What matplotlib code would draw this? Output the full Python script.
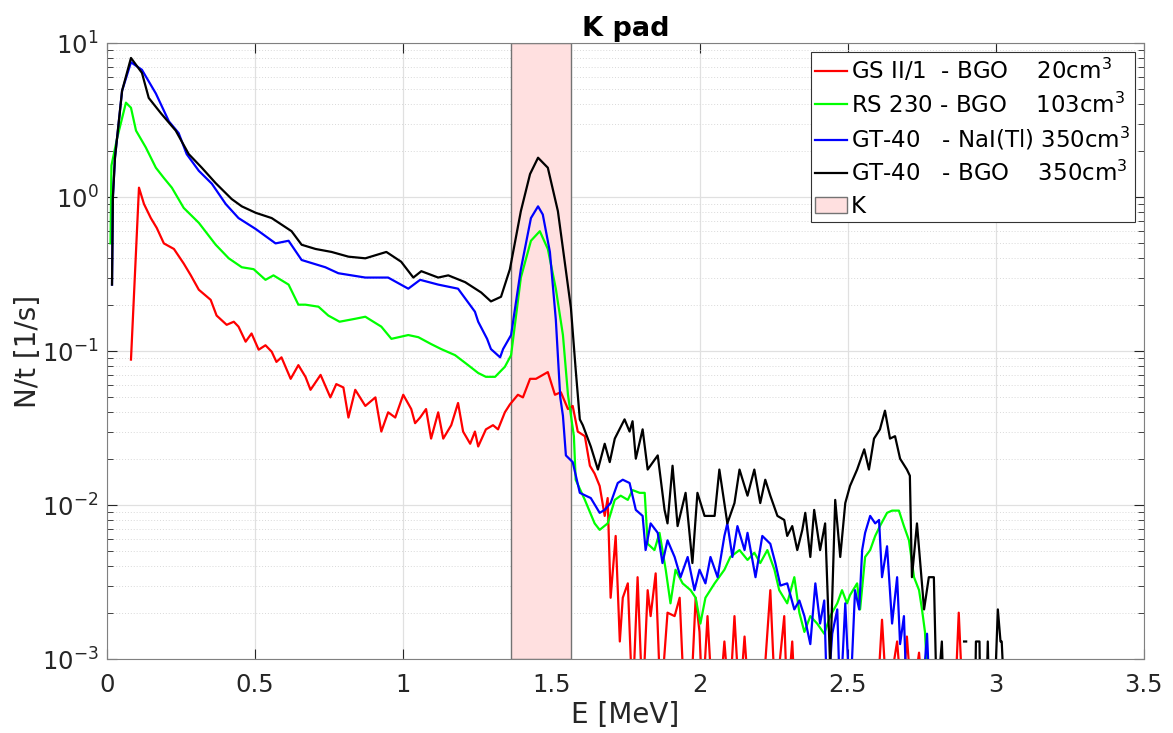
import numpy as np
import matplotlib
matplotlib.use("Agg")
import matplotlib.pyplot as plt
from matplotlib.ticker import LogLocator, NullFormatter, MultipleLocator, FuncFormatter

# GS II/1 - BGO 20cm3 (red)
red_e = [0.081, 0.108, 0.125, 0.148, 0.168, 0.192, 0.226, 0.259, 0.283, 0.310, 0.350, 0.370,
         0.404, 0.428, 0.444, 0.468, 0.488, 0.512, 0.535, 0.556, 0.572, 0.589, 0.620, 0.646,
         0.670, 0.687, 0.721, 0.754, 0.774, 0.798, 0.815, 0.838, 0.872, 0.906, 0.926, 0.949,
         0.973, 1.000, 1.027, 1.040, 1.057, 1.077, 1.094, 1.118, 1.135, 1.162, 1.185, 1.202,
         1.226, 1.242, 1.253, 1.279, 1.303, 1.320, 1.343, 1.360, 1.387, 1.404, 1.428, 1.448,
         1.488, 1.512, 1.532, 1.556, 1.572, 1.589, 1.613, 1.630, 1.646, 1.663, 1.680, 1.690,
         1.700, 1.717, 1.731, 1.741, 1.758, 1.774, 1.791, 1.808, 1.825, 1.835, 1.852, 1.869,
         1.892, 1.916, 1.933, 1.949, 1.970, 1.987, 2.000, 2.010, 2.027, 2.044, 2.067, 2.084,
         2.101, 2.118, 2.135, 2.152, 2.168, 2.212, 2.239, 2.256, 2.286, 2.296, 2.313, 2.323,
         2.599, 2.616, 2.633, 2.667, 2.684, 2.700, 2.717, 2.741, 2.754, 2.862, 2.875, 2.889]
red_v = [0.088, 1.15, 0.90, 0.73, 0.63, 0.50, 0.46, 0.37, 0.31, 0.25, 0.215, 0.17,
         0.148, 0.155, 0.144, 0.115, 0.13, 0.102, 0.109, 0.099, 0.085, 0.091, 0.066, 0.081,
         0.068, 0.056, 0.070, 0.050, 0.061, 0.058, 0.037, 0.056, 0.044, 0.050, 0.030, 0.040,
         0.037, 0.052, 0.042, 0.034, 0.037, 0.042, 0.027, 0.040, 0.027, 0.033, 0.046, 0.030,
         0.025, 0.030, 0.024, 0.031, 0.033, 0.031, 0.040, 0.045, 0.052, 0.050, 0.066, 0.066,
         0.073, 0.052, 0.054, 0.042, 0.044, 0.030, 0.028, 0.018, 0.016, 0.0133, 0.0085, 0.0111,
         0.0025, 0.0063, 0.0013, 0.0025, 0.0031, 0.0005, 0.0034, 0.0005, 0.0028, 0.0019, 0.0036, 0.0005,
         0.0020, 0.0019, 0.0025, 0.0005, 0.0005, 0.0025, 0.0015, 0.0005, 0.0019, 0.0005, 0.0005, 0.0013,
         0.0005, 0.0019, 0.0005, 0.0014, 0.0005, 0.0005, 0.0028, 0.0005, 0.0019, 0.0005, 0.0013, 0.0005,
         0.0005, 0.0018, 0.0005, 0.0013, 0.0005, 0.0014, 0.0005, 0.0011, 0.0005, 0.0005, 0.0020, 0.0005]

# RS 230 - BGO 103cm3 (green)
green_e = [0.012, 0.015, 0.034, 0.064, 0.081, 0.098, 0.131, 0.165, 0.192, 0.219, 0.259, 0.310,
           0.367, 0.411, 0.455, 0.495, 0.535, 0.562, 0.613, 0.646, 0.670, 0.714, 0.747, 0.785,
           0.838, 0.872, 0.926, 0.960, 1.017, 1.051, 1.094, 1.128, 1.175, 1.219, 1.253, 1.279,
           1.310, 1.343, 1.364, 1.397, 1.431, 1.461, 1.488, 1.515, 1.539, 1.556, 1.576, 1.582,
           1.613, 1.646, 1.663, 1.690, 1.714, 1.734, 1.758, 1.774, 1.798, 1.815, 1.825, 1.848,
           1.865, 1.886, 1.902, 1.919, 1.943, 1.970, 1.987, 2.003, 2.020, 2.051, 2.084, 2.104,
           2.135, 2.162, 2.185, 2.205, 2.229, 2.253, 2.269, 2.296, 2.320, 2.337, 2.354, 2.374,
           2.397, 2.421, 2.441, 2.465, 2.481, 2.498, 2.508, 2.532, 2.542, 2.559, 2.576, 2.593,
           2.609, 2.633, 2.650, 2.673, 2.690, 2.707, 2.724, 2.741, 2.751, 2.761, 2.774]
green_v = [0.50, 1.6, 2.4, 4.1, 3.8, 2.7, 2.1, 1.55, 1.33, 1.15, 0.85, 0.68,
           0.49, 0.40, 0.35, 0.34, 0.29, 0.31, 0.27, 0.20, 0.20, 0.194, 0.17, 0.155,
           0.162, 0.167, 0.144, 0.12, 0.127, 0.123, 0.111, 0.103, 0.094, 0.081, 0.072, 0.068,
           0.068, 0.079, 0.094, 0.30, 0.52, 0.60, 0.46, 0.254, 0.127, 0.052, 0.028, 0.0146,
           0.0108, 0.0076, 0.0069, 0.0076, 0.0108, 0.0115, 0.0108, 0.0125, 0.012, 0.012, 0.0056, 0.0051,
           0.0066, 0.0038, 0.0023, 0.0038, 0.0031, 0.0028, 0.0025, 0.0017, 0.0025, 0.0031, 0.0038, 0.0046,
           0.0051, 0.0044, 0.0049, 0.0042, 0.0051, 0.0038, 0.0028, 0.0023, 0.0034, 0.0020, 0.0015, 0.0019,
           0.0017, 0.00146, 0.0019, 0.0023, 0.0028, 0.0023, 0.0026, 0.0031, 0.0021, 0.0046, 0.0051, 0.0063,
           0.0073, 0.0089, 0.0092, 0.0092, 0.0073, 0.0059, 0.0034, 0.0028, 0.0021, 0.0015, 0.0005]

# GT-40 - NaI(Tl) 350cm3 (blue)
blue_e = [0.017, 0.020, 0.027, 0.051, 0.081, 0.118, 0.165, 0.209, 0.242, 0.269, 0.310, 0.354,
          0.401, 0.444, 0.502, 0.569, 0.613, 0.657, 0.737, 0.781, 0.872, 0.949, 1.017, 1.057,
          1.118, 1.185, 1.242, 1.253, 1.283, 1.296, 1.327, 1.337, 1.364, 1.397, 1.431, 1.455,
          1.471, 1.495, 1.515, 1.530, 1.539, 1.549, 1.572, 1.596, 1.616, 1.633, 1.663, 1.680,
          1.700, 1.724, 1.741, 1.764, 1.785, 1.808, 1.818, 1.835, 1.859, 1.875, 1.892, 1.916,
          1.936, 1.960, 1.983, 2.000, 2.020, 2.037, 2.061, 2.084, 2.094, 2.111, 2.128, 2.152,
          2.162, 2.189, 2.212, 2.239, 2.256, 2.273, 2.296, 2.320, 2.337, 2.354, 2.374, 2.391,
          2.407, 2.421, 2.431, 2.448, 2.465, 2.475, 2.492, 2.508, 2.525, 2.539, 2.549, 2.559,
          2.576, 2.593, 2.606, 2.616, 2.633, 2.650, 2.667, 2.677, 2.690, 2.700, 2.727, 2.750,
          2.768, 2.778]
blue_v = [0.27, 1.0, 1.8, 4.9, 7.5, 6.7, 4.7, 3.1, 2.6, 1.9, 1.48, 1.22,
          0.90, 0.73, 0.62, 0.50, 0.52, 0.39, 0.35, 0.32, 0.30, 0.30, 0.254, 0.29,
          0.27, 0.254, 0.18, 0.155, 0.12, 0.103, 0.091, 0.103, 0.127, 0.34, 0.73, 0.87,
          0.77, 0.44, 0.16, 0.05, 0.038, 0.021, 0.019, 0.012, 0.0115, 0.0111, 0.0089, 0.0093,
          0.0103, 0.0139, 0.0146, 0.0139, 0.0093, 0.0085, 0.0051, 0.0076, 0.0066, 0.0042, 0.0059, 0.0046,
          0.0034, 0.0046, 0.0028, 0.0038, 0.0031, 0.0046, 0.0034, 0.0063, 0.0076, 0.0046, 0.0073, 0.0051,
          0.0066, 0.0034, 0.0063, 0.0056, 0.0042, 0.0030, 0.0031, 0.0021, 0.0024, 0.0019, 0.00125, 0.0031,
          0.0017, 0.0024, 0.0005, 0.00146, 0.0021, 0.0005, 0.0023, 0.0005, 0.0028, 0.0021, 0.0051, 0.0066,
          0.0085, 0.0076, 0.0080, 0.0034, 0.0054, 0.0017, 0.0034, 0.00125, 0.0019, 0.0005, 0.00098, 0.0005,
          0.00146, 0.0005]

# GT-40 - BGO 350cm3 (black)
black_e = [0.017, 0.020, 0.027, 0.051, 0.081, 0.118, 0.141, 0.182, 0.232, 0.276, 0.320, 0.367,
           0.421, 0.455, 0.502, 0.556, 0.623, 0.657, 0.704, 0.758, 0.815, 0.872, 0.943, 0.993,
           1.034, 1.061, 1.118, 1.152, 1.209, 1.263, 1.296, 1.330, 1.360, 1.397, 1.428, 1.455,
           1.488, 1.522, 1.545, 1.566, 1.582, 1.596, 1.606, 1.633, 1.657, 1.680, 1.697, 1.714,
           1.747, 1.764, 1.774, 1.785, 1.808, 1.825, 1.859, 1.882, 1.892, 1.909, 1.926, 1.953,
           1.976, 1.993, 2.017, 2.051, 2.067, 2.094, 2.118, 2.135, 2.162, 2.185, 2.205, 2.222,
           2.239, 2.263, 2.286, 2.296, 2.313, 2.330, 2.347, 2.357, 2.374, 2.387, 2.407, 2.424,
           2.441, 2.458, 2.475, 2.492, 2.508, 2.532, 2.556, 2.572, 2.589, 2.609, 2.626, 2.643,
           2.660, 2.677, 2.700, 2.710, 2.717, 2.734, 2.758, 2.774, 2.791, 2.801, 2.818, 2.825,
           2.860, 2.893, 2.900, 2.915, 2.930, 2.933, 2.945, 2.948, 2.968, 2.973, 2.978, 2.995,
           3.007, 3.016, 3.020, 3.030]
black_v = [0.27, 1.0, 1.8, 4.9, 8.0, 6.4, 4.4, 3.5, 2.7, 1.9, 1.55, 1.23,
           0.97, 0.87, 0.79, 0.73, 0.60, 0.49, 0.46, 0.44, 0.41, 0.40, 0.44, 0.38,
           0.30, 0.33, 0.30, 0.31, 0.28, 0.24, 0.21, 0.225, 0.34, 0.81, 1.41, 1.80,
           1.55, 0.81, 0.38, 0.19, 0.076, 0.036, 0.033, 0.024, 0.017, 0.025, 0.019, 0.027,
           0.036, 0.030, 0.035, 0.020, 0.031, 0.017, 0.021, 0.0093, 0.0076, 0.018, 0.0073, 0.012,
           0.0042, 0.012, 0.0085, 0.0085, 0.017, 0.0076, 0.0103, 0.017, 0.0115, 0.017, 0.0103, 0.0146,
           0.0115, 0.0085, 0.0080, 0.0063, 0.0073, 0.0051, 0.0069, 0.0089, 0.0046, 0.0093, 0.0051, 0.0076,
           0.0009, 0.0108, 0.0046, 0.0103, 0.0133, 0.017, 0.023, 0.017, 0.027, 0.031, 0.041, 0.027,
           0.028, 0.020, 0.017, 0.0155, 0.0034, 0.0076, 0.0021, 0.0034, 0.0034, 0.0005, 0.0013, 0.0005,
           np.nan, 0.0013, 0.0013, np.nan, 0.0005, 0.0013, 0.0013, 0.0005, 0.0005, 0.0013, 0.0005, 0.0005,
           0.0021, 0.0013, 0.0013, 0.0005]

labels = ["GS II/1  - BGO    20cm$^3$",
          "RS 230 - BGO    103cm$^3$",
          "GT-40   - NaI(Tl) 350cm$^3$",
          "GT-40   - BGO    350cm$^3$"]
k_window = (1.365, 1.565)

fig = plt.figure(figsize=(11.73, 7.33), dpi=100)
ax = fig.add_axes([0.0912, 0.1009, 0.884, 0.8404])

span = ax.axvspan(k_window[0], k_window[1], facecolor=(1.0, 0.88, 0.88), edgecolor="0.45",
                  lw=1.0, label="K", zorder=1)

series = [(red_e, red_v, "#ff0000"), (green_e, green_v, "#00ff00"),
          (blue_e, blue_v, "#0000ff"), (black_e, black_v, "#000000")]
handles = []
for (e, v, c), lab in zip(series, labels):
    h, = ax.plot(e, v, color=c, lw=1.6, label=lab, zorder=3)
    handles.append(h)
handles.append(span)

ax.set_yscale("log")
ax.set_xlim(0, 3.5)
ax.set_ylim(1e-3, 1e1)
ax.xaxis.set_major_locator(MultipleLocator(0.5))
ax.yaxis.set_major_locator(LogLocator(base=10, numticks=10))
ax.yaxis.set_minor_locator(LogLocator(base=10, subs=np.arange(2, 10), numticks=20))
ax.yaxis.set_minor_formatter(NullFormatter())
ax.xaxis.set_major_formatter(FuncFormatter(lambda x, p: f"{x:g}"))

ax.grid(True, which="major", color="0.88", lw=0.9, zorder=0)
ax.grid(True, which="minor", axis="y", color="0.85", lw=0.7, ls=(0, (1, 2)), zorder=0)
ax.set_axisbelow(True)

ax.tick_params(which="both", direction="in", top=True, right=True, colors="0.15",
               labelsize=17.5)
ax.tick_params(which="major", length=7)
ax.tick_params(which="minor", length=4)
ax.tick_params(axis="x", which="major", pad=10)
ax.tick_params(axis="y", which="major", pad=6)
for sp in ax.spines.values():
    sp.set_color("0.5")

ax.set_xlabel("E [MeV]", fontsize=20, color="0.15", labelpad=3)
ax.set_ylabel("N/t [1/s]", fontsize=20, color="0.15", labelpad=0)
ax.set_title("K pad", fontsize=19.5, fontweight="bold", pad=5)

leg = ax.legend(handles=handles, loc="upper right", fontsize=16.5, frameon=True,
                fancybox=False, framealpha=1, edgecolor="0.2", borderaxespad=0.4,
                handlelength=1.4, handletextpad=0.15, labelspacing=0.36, borderpad=0.2)
leg.get_frame().set_linewidth(0.8)

fig.savefig("out.png", dpi=100)
